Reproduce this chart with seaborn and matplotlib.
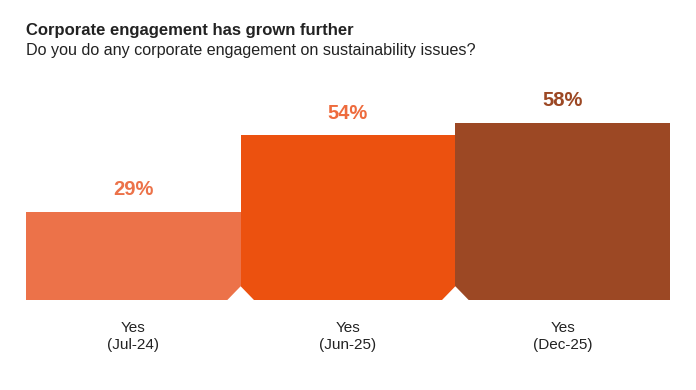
import matplotlib
matplotlib.use('Agg')
import matplotlib.pyplot as plt
import seaborn as sns
import pandas as pd

# chart values
categories = ['Yes\n(Jul-24)', 'Yes\n(Jun-25)', 'Yes\n(Dec-25)']
values = [29, 54, 58]
colors = ['#EC7249', '#EC510F', '#9C4824']
label_colors = ['#EC7249', '#EE6B3D', '#9C4824']

title = 'Corporate engagement has grown further'
subtitle = 'Do you do any corporate engagement on sustainability issues?'


def main():
    sns.set_style('white')
    plt.rcParams['font.family'] = ['Liberation Sans', 'DejaVu Sans']

    df = pd.DataFrame({'cat': categories, 'val': values})

    fig = plt.figure(figsize=(6.96, 3.9), dpi=100)
    ax = fig.add_axes([26 / 696, 90 / 390, 644 / 696, 183 / 390])

    sns.barplot(data=df, x='cat', y='val', hue='cat', palette=colors,
                width=1.0, legend=False, saturation=1, ax=ax, linewidth=0)

    ax.set_ylim(0, 60)
    ax.set_xlim(-0.5, len(values) - 0.5)
    ax.set_xlabel('')
    ax.set_ylabel('')
    ax.set_yticks([])
    sns.despine(ax=ax, left=True, bottom=True)
    ax.tick_params(axis='x', length=0, pad=15, labelsize=11)
    for t in ax.get_xticklabels():
        t.set_linespacing(1.3)
        t.set_color('#222222')

    # value labels above bars
    for p, v, c in zip(ax.patches, values, label_colors):
        ax.annotate(f'{v}%', (p.get_x() + p.get_width() / 2, p.get_height()),
                    xytext=(0, 16), textcoords='offset points',
                    ha='center', va='center', fontsize=14.5,
                    fontweight='bold', color=c)

    # small white notches at the base between bars
    trans = ax.get_xaxis_transform()
    for p in ax.patches[1:]:
        x0 = p.get_x()
        dx = 0.062
        ax.fill([x0 - dx, x0, x0 + dx], [0, 0.075, 0], color='white',
                transform=trans, zorder=5, clip_on=False, lw=0)

    fig.text(26 / 696, 1 - 30 / 390, title, fontsize=12, fontweight='bold',
             color='#222222', va='center', ha='left')
    fig.text(26 / 696, 1 - 51 / 390, subtitle, fontsize=11.6,
             color='#222222', va='center', ha='left')

    fig.savefig('out.png', dpi=100)
    return 0


if __name__ == '__main__':
    main()
